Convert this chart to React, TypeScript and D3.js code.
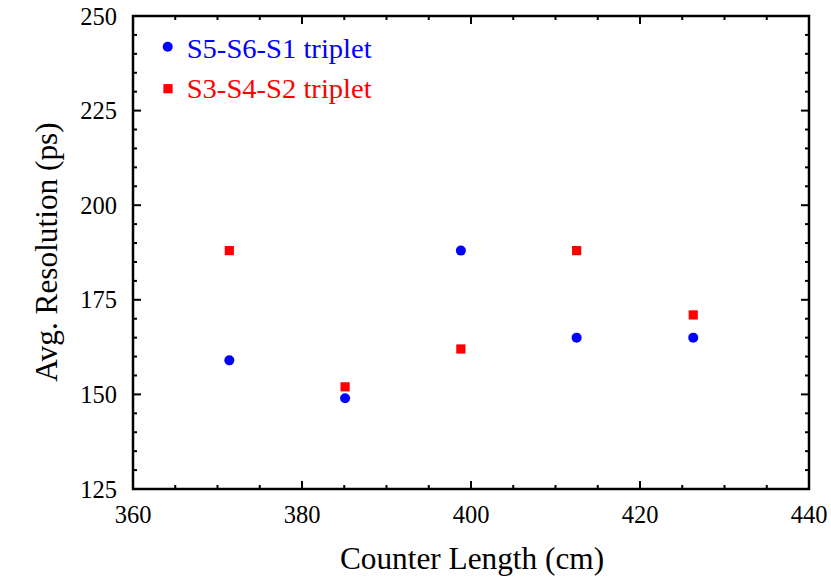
import React from "react";
import * as d3 from "d3";

const counterLength = [371.4, 385.1, 398.8, 412.5, 426.3];
const blueSeries = [159, 149, 188, 165, 165];
const redSeries = [188, 152, 162, 188, 171];
const xTicks = [360, 380, 400, 420, 440];
const yTicks = [125, 150, 175, 200, 225, 250];
const legendLabels = ["S5-S6-S1 triplet", "S3-S4-S2 triplet"];

export default function App() {
  const W = 831, H = 577;
  const L = 133, R = 809, T = 16, B = 489;
  const x = d3.scaleLinear().domain([360, 440]).range([L, R]);
  const y = d3.scaleLinear().domain([125, 250]).range([B, T]);
  const xMinor = d3.range(360, 440.001, 5);
  const yMinor = d3.range(125, 250.001, 5);
  const font = "'Liberation Serif', 'Times New Roman', serif";
  return (
    <svg width={W} height={H} style={{ position: "absolute", left: 0, top: 0 }}>
      <rect width={W} height={H} fill="white" />
      {xMinor.map((v) => {
        const major = xTicks.includes(v);
        const len = major ? 8 : 4;
        return (
          <g key={"xm" + v}>
            <line x1={x(v)} x2={x(v)} y1={B} y2={B - len} stroke="black" strokeWidth={2} />
            <line x1={x(v)} x2={x(v)} y1={T} y2={T + len} stroke="black" strokeWidth={2} />
          </g>
        );
      })}
      {yMinor.map((v) => {
        const major = yTicks.includes(v);
        const len = major ? 8 : 4;
        return (
          <g key={"ym" + v}>
            <line x1={L} x2={L + len} y1={y(v)} y2={y(v)} stroke="black" strokeWidth={2} />
            <line x1={R} x2={R - len} y1={y(v)} y2={y(v)} stroke="black" strokeWidth={2} />
          </g>
        );
      })}
      <rect x={L} y={T} width={R - L} height={B - T} fill="none" stroke="black" strokeWidth={2.5} />
      {xTicks.map((v) => (
        <text key={"xt" + v} x={x(v)} y={523} textAnchor="middle" fontFamily={font} fontSize={24.5}>
          {v}
        </text>
      ))}
      {yTicks.map((v) => (
        <text key={"yt" + v} x={117} y={y(v) + 8.5} textAnchor="end" fontFamily={font} fontSize={24.5}>
          {v}
        </text>
      ))}
      <text x={472} y={569} textAnchor="middle" fontFamily={font} fontSize={31.3}>
        Counter Length (cm)
      </text>
      <text
        transform={`translate(57, 252) rotate(-90)`}
        textAnchor="middle"
        fontFamily={font}
        fontSize={31.3}
      >
        Avg. Resolution (ps)
      </text>
      {counterLength.map((c, i) => (
        <circle key={"b" + i} cx={x(c)} cy={y(blueSeries[i])} r={5} fill="#0000ff" />
      ))}
      {counterLength.map((c, i) => (
        <rect key={"r" + i} x={x(c) - 4.6} y={y(redSeries[i]) - 4.6} width={9.2} height={9.2} fill="#ff0000" />
      ))}
      <circle cx={167.7} cy={46.7} r={5} fill="#0000ff" />
      <text x={186.7} y={58} fontFamily={font} fontSize={27} textLength={185} lengthAdjust="spacingAndGlyphs">
        <tspan fill="#0000ff">{legendLabels[0]}</tspan>
      </text>
      <rect x={163.4} y={84.1} width={9.2} height={9.2} fill="#ff0000" />
      <text x={186.7} y={97.5} fontFamily={font} fontSize={27} textLength={185} lengthAdjust="spacingAndGlyphs">
        <tspan fill="#ff0000">{legendLabels[1]}</tspan>
      </text>
    </svg>
  );
}
